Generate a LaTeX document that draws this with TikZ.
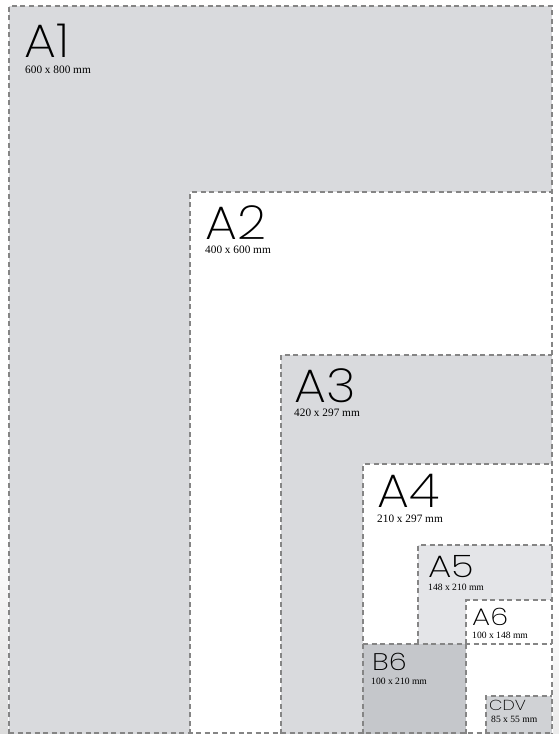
\documentclass[tikz,border=0pt]{standalone}
\usepackage{fontspec}
\setmainfont{Liberation Serif}
\newfontfamily\sizefont{Poppins ExtraLight}[FakeStretch=1.08]
\newfontfamily\smallsizefont{Poppins ExtraLight}[FakeStretch=1.2]
\definecolor{sheetgray}{HTML}{D9DADD}
\definecolor{sheetlight}{HTML}{E4E5E8}
\definecolor{sheetdark}{HTML}{C5C7CB}
\definecolor{sheetmid}{HTML}{D0D2D5}
\definecolor{cutline}{HTML}{858585}
\tikzset{
  cut/.style={cutline, line width=1.1pt, dash pattern=on 5pt off 3.5pt},
  bigname/.style={anchor=base west, inner sep=0pt, text depth=0pt, font=\sizefont\fontsize{47}{47}\selectfont},
  midname/.style={anchor=base west, inner sep=0pt, text depth=0pt, font=\smallsizefont\fontsize{31}{31}\selectfont},
  smallname/.style={anchor=base west, inner sep=0pt, text depth=0pt, font=\smallsizefont\fontsize{24}{24}\selectfont},
  tinyname/.style={anchor=base west, inner sep=0pt, text depth=0pt, font=\smallsizefont\fontsize{14.5}{14.5}\selectfont},
  dims/.style={anchor=base west, inner sep=0pt, font=\fontsize{11.3}{11.3}\selectfont},
  smalldims/.style={anchor=base west, inner sep=0pt, font=\fontsize{9.6}{9.6}\selectfont},
  edgeshade/.style={top color=white, bottom color=black!14}
}
\begin{document}
\begin{tikzpicture}[x=1pt,y=-1pt]
  \useasboundingbox[fill=white] (0,0) rectangle (559,734);
  % soft shadow round the outer sheet
  \shade[edgeshade] (0,540) rectangle (8,734);
  \shade[top color=white, bottom color=black!8] (553,600) rectangle (559,734);
  % sheets, largest first
  \fill[sheetgray] (9,6) rectangle (552,734);
  \fill[white] (190,192) rectangle (552,734);
  \fill[sheetgray] (281,355) rectangle (552,734);
  \fill[white] (363,464) rectangle (552,734);
  \fill[sheetlight] (418,545) rectangle (552,644);
  \fill[white] (466,600) rectangle (552,644);
  \fill[sheetdark] (363,644) rectangle (466,734);
  \fill[sheetmid] (486,696) rectangle (552,734);
  % cutting lines
  \draw[cut] (9,734) -- (9,6) -- (552,6) -- (552,734);
  \draw[cut] (190,734) -- (190,192) -- (552,192);
  \draw[cut] (281,734) -- (281,355) -- (552,355);
  \draw[cut] (363,734) -- (363,464) -- (552,464);
  \draw[cut] (418,644) -- (418,545) -- (552,545);
  \draw[cut] (466,644) -- (466,600) -- (552,600);
  \draw[cut] (363,644) -- (552,644);
  \draw[cut] (466,644) -- (466,734);
  \draw[cut] (486,734) -- (486,696) -- (552,696);
  \draw[cut] (9,733) -- (552,733);
  % labels
  \node[bigname] (a1) at (24,57) {A1};
  \node[dims] (a1dims) at (25,73) {600 x 800 mm};
  \node[bigname] (a2) at (205,239) {A2};
  \node[dims] (a2dims) at (205,253) {400 x 600 mm};
  \node[bigname] (a3) at (294,402) {A3};
  \node[dims] (a3dims) at (294,416) {420 x 297 mm};
  \node[bigname] (a4) at (377,507) {A4};
  \node[dims] (a4dims) at (377,522) {210 x 297 mm};
  \node[midname] (a5) at (428,577) {A5};
  \node[smalldims] (a5dims) at (428,590) {148 x 210 mm};
  \node[smallname] (a6) at (472,625) {A6};
  \node[smalldims] (a6dims) at (472,638) {100 x 148 mm};
  \node[smallname] (b6) at (372,670) {B6};
  \node[smalldims] (b6dims) at (371,684) {100 x 210 mm};
  \node[tinyname] (cdv) at (489,710) {CDV};
  \node[smalldims] (cdvdims) at (491,722) {85 x 55 mm};
\end{tikzpicture}
\end{document}
